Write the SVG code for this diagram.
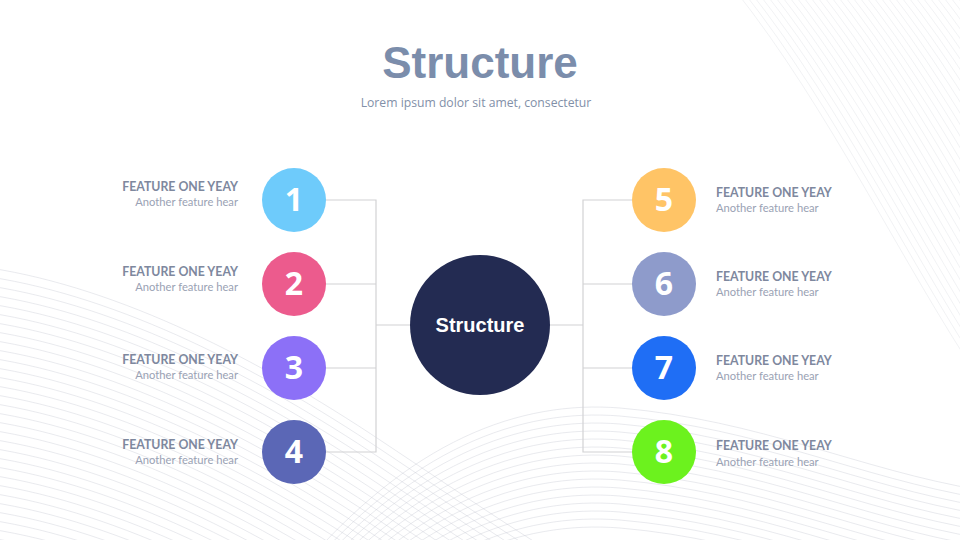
<svg xmlns="http://www.w3.org/2000/svg" xmlns:xlink="http://www.w3.org/1999/xlink" width="960" height="540" viewBox="0 0 960 540">
<style>
.bg{fill:none;stroke:#c4c9d2;stroke-width:0.7;opacity:0.55}
.bg2{fill:none;stroke:#c4c9d2;stroke-width:0.6;opacity:0.4}
.conn{fill:none;stroke:#d2d2d4;stroke-width:1.2}
.num{font-family:"Open Sans","Liberation Sans",sans-serif;font-weight:700;font-size:32px;fill:#ffffff;text-anchor:middle}
.ft{font-family:Lato,"Liberation Sans",sans-serif;font-weight:700;font-size:12.3px;fill:#7e889e}
.fs{font-family:Lato,"Liberation Sans",sans-serif;font-size:11.2px;fill:#9aa2b4}
.l{text-anchor:end}
</style>
<defs>
<path id="wa" d="M-10,268 C120,288 260,360 380,440 C470,500 530,540 580,570"/>
<path id="wb" d="M300,570 C410,440 520,400 620,408 C760,420 860,470 980,490"/>
<path id="wc" d="M735,-10 C830,110 900,260 980,380"/>
</defs>
<rect width="960" height="540" fill="#ffffff"/>
<g id="background">
<use href="#wa" class="bg"/><use href="#wa" class="bg" y="9"/><use href="#wa" class="bg" y="18"/><use href="#wa" class="bg" y="27"/><use href="#wa" class="bg" y="36"/><use href="#wa" class="bg" y="45"/><use href="#wa" class="bg" y="54"/><use href="#wa" class="bg" y="63"/><use href="#wa" class="bg" y="72"/><use href="#wa" class="bg" y="81"/><use href="#wa" class="bg" y="90"/><use href="#wa" class="bg" y="99"/><use href="#wa" class="bg" y="108"/><use href="#wa" class="bg" y="117"/><use href="#wa" class="bg" y="126"/><use href="#wa" class="bg" y="135"/><use href="#wa" class="bg" y="144"/><use href="#wa" class="bg" y="153"/><use href="#wa" class="bg" y="162"/><use href="#wa" class="bg" y="171"/><use href="#wa" class="bg" y="180"/><use href="#wa" class="bg" y="189"/><use href="#wa" class="bg" y="198"/><use href="#wa" class="bg" y="207"/><use href="#wa" class="bg" y="216"/><use href="#wa" class="bg" y="225"/><use href="#wa" class="bg" y="234"/><use href="#wa" class="bg" y="243"/><use href="#wa" class="bg" y="252"/><use href="#wa" class="bg" y="261"/><use href="#wa" class="bg" y="270"/>
<use href="#wb" class="bg"/><use href="#wb" class="bg" y="8"/><use href="#wb" class="bg" y="16"/><use href="#wb" class="bg" y="24"/><use href="#wb" class="bg" y="32"/><use href="#wb" class="bg" y="40"/><use href="#wb" class="bg" y="48"/><use href="#wb" class="bg" y="56"/><use href="#wb" class="bg" y="64"/><use href="#wb" class="bg" y="72"/><use href="#wb" class="bg" y="80"/><use href="#wb" class="bg" y="88"/><use href="#wb" class="bg" y="96"/><use href="#wb" class="bg" y="104"/><use href="#wb" class="bg" y="112"/><use href="#wb" class="bg" y="120"/>
<use href="#wc" class="bg2"/><use href="#wc" class="bg2" x="7"/><use href="#wc" class="bg2" x="14"/><use href="#wc" class="bg2" x="21"/><use href="#wc" class="bg2" x="28"/><use href="#wc" class="bg2" x="35"/><use href="#wc" class="bg2" x="42"/><use href="#wc" class="bg2" x="49"/><use href="#wc" class="bg2" x="56"/><use href="#wc" class="bg2" x="63"/><use href="#wc" class="bg2" x="70"/><use href="#wc" class="bg2" x="77"/><use href="#wc" class="bg2" x="84"/><use href="#wc" class="bg2" x="91"/><use href="#wc" class="bg2" x="98"/><use href="#wc" class="bg2" x="105"/><use href="#wc" class="bg2" x="112"/><use href="#wc" class="bg2" x="119"/><use href="#wc" class="bg2" x="126"/><use href="#wc" class="bg2" x="133"/><use href="#wc" class="bg2" x="140"/><use href="#wc" class="bg2" x="147"/><use href="#wc" class="bg2" x="154"/><use href="#wc" class="bg2" x="161"/><use href="#wc" class="bg2" x="168"/><use href="#wc" class="bg2" x="175"/><use href="#wc" class="bg2" x="182"/><use href="#wc" class="bg2" x="189"/><use href="#wc" class="bg2" x="196"/><use href="#wc" class="bg2" x="203"/><use href="#wc" class="bg2" x="210"/><use href="#wc" class="bg2" x="217"/><use href="#wc" class="bg2" x="224"/><use href="#wc" class="bg2" x="231"/>
</g>
<g id="title">
<text x="480" y="78" text-anchor="middle" font-family="'Liberation Sans',Arial,sans-serif" font-weight="700" font-size="44" fill="#7b8dab">Structure</text>
<text x="476" y="107" text-anchor="middle" font-family="'Open Sans','Liberation Sans',sans-serif" font-size="12.2" fill="#8290a8">Lorem ipsum dolor sit amet, consectetur</text>
</g>
<g id="connectors">
<path class="conn" d="M326,200 H376 V452 H326 M326,284 H376 M326,368 H376 M376,325 H410"/>
<path class="conn" d="M632,200 H583 V452 H632 M632,284 H583 M632,368 H583 M583,325 H550"/>
</g>
<g id="center">
<circle cx="480" cy="325" r="70" fill="#232b52"/>
<text x="480" y="332" text-anchor="middle" font-family="'Liberation Sans',Arial,sans-serif" font-weight="700" font-size="20" fill="#ffffff">Structure</text>
</g>
<g id="node1"><circle cx="294" cy="200" r="32" fill="#6ecbfb"/><text class="num" x="294" y="211">1</text><text class="ft l" x="238" y="191">FEATURE ONE YEAY</text><text class="fs l" x="238" y="206">Another feature hear</text></g>
<g id="node2"><circle cx="294" cy="284" r="32" fill="#ec5b8d"/><text class="num" x="294" y="295">2</text><text class="ft l" x="238" y="276">FEATURE ONE YEAY</text><text class="fs l" x="238" y="291">Another feature hear</text></g>
<g id="node3"><circle cx="294" cy="368" r="32" fill="#8c70f7"/><text class="num" x="294" y="379">3</text><text class="ft l" x="238" y="364">FEATURE ONE YEAY</text><text class="fs l" x="238" y="379">Another feature hear</text></g>
<g id="node4"><circle cx="294" cy="452" r="32" fill="#5b67b6"/><text class="num" x="294" y="463">4</text><text class="ft l" x="238" y="449">FEATURE ONE YEAY</text><text class="fs l" x="238" y="464">Another feature hear</text></g>
<g id="node5"><circle cx="664" cy="200" r="32" fill="#ffc466"/><text class="num" x="664" y="211">5</text><text class="ft" x="716" y="197">FEATURE ONE YEAY</text><text class="fs" x="716" y="212">Another feature hear</text></g>
<g id="node6"><circle cx="664" cy="284" r="32" fill="#8e9bcb"/><text class="num" x="664" y="295">6</text><text class="ft" x="716" y="281">FEATURE ONE YEAY</text><text class="fs" x="716" y="296">Another feature hear</text></g>
<g id="node7"><circle cx="664" cy="368" r="32" fill="#1f6ef5"/><text class="num" x="664" y="379">7</text><text class="ft" x="716" y="365">FEATURE ONE YEAY</text><text class="fs" x="716" y="380">Another feature hear</text></g>
<g id="node8"><circle cx="664" cy="452" r="32" fill="#6cf21e"/><text class="num" x="664" y="463">8</text><text class="ft" x="716" y="450">FEATURE ONE YEAY</text><text class="fs" x="716" y="466">Another feature hear</text></g>
</svg>
